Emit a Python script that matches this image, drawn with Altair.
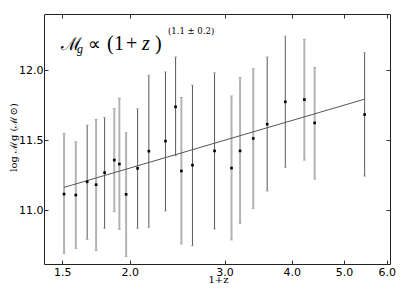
import altair as alt
import pandas as pd

# data
x_vals = [1.511, 1.589, 1.668, 1.733, 1.797, 1.873, 1.914, 1.970, 2.069, 2.171, 2.331, 2.434,
          2.495, 2.616, 2.875, 3.091, 3.206, 3.392, 3.600, 3.890, 4.220, 4.410, 5.460]
y_vals = [11.114, 11.107, 11.202, 11.181, 11.267, 11.357, 11.329, 11.112, 11.298, 11.421, 11.493, 11.738,
          11.279, 11.321, 11.423, 11.300, 11.423, 11.512, 11.614, 11.774, 11.790, 11.623, 11.683]
y_lo = [10.690, 10.726, 10.790, 10.710, 10.869, 10.988, 10.862, 10.667, 10.869, 10.876, 10.993, 11.388,
        10.757, 10.745, 10.864, 10.786, 10.905, 11.012, 11.136, 11.305, 11.357, 11.221, 11.243]
y_hi = [11.548, 11.488, 11.607, 11.648, 11.662, 11.726, 11.800, 11.552, 11.724, 11.964, 11.988, 12.095,
        11.805, 11.893, 11.981, 11.816, 11.948, 12.012, 12.095, 12.243, 12.221, 12.019, 12.126]
shade = ["light", "light", "dark", "light", "dark", "light", "light", "light", "dark", "dark", "dark", "dark",
         "light", "dark", "dark", "light", "light", "light", "dark", "dark", "light", "light", "dark"]

fit_x = [1.511, 5.460]
fit_y = [11.162, 11.793]

df = pd.DataFrame({"x": x_vals, "y": y_vals, "lo": y_lo, "hi": y_hi, "shade": shade})
df_fit = pd.DataFrame({"x": fit_x, "y": fit_y})

xs = alt.Scale(type="log", domain=[1.387, 6.085], nice=False)
ys = alt.Scale(domain=[10.614, 12.402], nice=False, zero=False)

axis_common = dict(domain=False, grid=False, tickSize=4, offset=-4, tickColor="#333",
                   labelFont="DejaVu Sans", labelFontSize=11, labelColor="black",
                   titleFont="DejaVu Serif", titleFontSize=10, titleFontWeight="normal", titleColor="black")

x_axis = alt.Axis(values=[1.5, 2.0, 3.0, 4.0, 5.0, 6.0], format=".1f", labelPadding=2,
                  title="1+z", titleY=22, titleBaseline="alphabetic", titleX=174, titleAlign="center",
                  labelFlush=False, **axis_common)
y_axis = alt.Axis(values=[11.0, 11.5, 12.0], format=".1f", labelPadding=1,
                  title="log ℳg (ℳ⊙)", titleX=-35, titleY=123, titleBaseline="middle",
                  titleAlign="center", titleAngle=270, **axis_common)

x_top = alt.Axis(orient="top", values=[1.5, 2.0, 3.0, 4.0, 5.0, 6.0], labels=False, title=None,
                 domain=False, grid=False, tickSize=4, offset=-4, tickColor="#333")
y_right = alt.Axis(orient="right", values=[11.0, 11.5, 12.0], labels=False, title=None,
                   domain=False, grid=False, tickSize=4, offset=-4, tickColor="#333")

shade_dom = ["light", "dark"]

bars = alt.Chart(df).mark_rule().encode(
    x=alt.X("x:Q", scale=xs, axis=x_axis),
    y=alt.Y("lo:Q", scale=ys, axis=y_axis),
    y2="hi:Q",
    color=alt.Color("shade:N", scale=alt.Scale(domain=shade_dom, range=["#b3b3b3", "#5a5a5a"]), legend=None),
    strokeWidth=alt.StrokeWidth("shade:N", scale=alt.Scale(domain=shade_dom, range=[2, 1]), legend=None),
)

cap_lo = alt.Chart(df).mark_tick(orient="horizontal", size=3, thickness=1, color="#9a9a9a").encode(
    x=alt.X("x:Q", scale=xs, axis=None), y=alt.Y("lo:Q", scale=ys, axis=None))
cap_hi = alt.Chart(df).mark_tick(orient="horizontal", size=3, thickness=1, color="#9a9a9a").encode(
    x=alt.X("x:Q", scale=xs, axis=None), y=alt.Y("hi:Q", scale=ys, axis=None))

fit = alt.Chart(df_fit).mark_line(color="#555555", strokeWidth=1).encode(
    x=alt.X("x:Q", scale=xs, axis=None), y=alt.Y("y:Q", scale=ys, axis=None))

pts = alt.Chart(df).mark_square(size=7, color="black", opacity=1).encode(
    x=alt.X("x:Q", scale=xs, axis=None), y=alt.Y("y:Q", scale=ys, axis=None))

ghost = alt.Chart(df).mark_point(opacity=0).encode(
    x=alt.X("x:Q", scale=xs, axis=x_top), y=alt.Y("y:Q", scale=ys, axis=y_right))

one = pd.DataFrame({"k": [0]})


def label(txt, px, py, size, style="normal", font="Liberation Serif"):
    return alt.Chart(one).mark_text(align="left", baseline="alphabetic", font=font, fontSize=size,
                                    fontStyle=style, color="#000000").encode(
        x=alt.value(px), y=alt.value(py), text=alt.value(txt))


ann = [
    label("ℳ", 17, 36, 18, font="DejaVu Serif"),
    label("g", 33, 39, 12, "italic"),
    label("∝", 44, 36, 18, font="DejaVu Sans"),
    label("(", 63, 36, 20),
    label("1", 70, 36, 20),
    label("+", 82, 36, 20),
    label("z", 98, 36, 20, "italic"),
    label(")", 111, 36, 20),
    label("(1.1 ± 0.2)", 124, 20, 8.5, font="DejaVu Serif"),
]

chart = alt.layer(bars, cap_lo, cap_hi, fit, pts, ghost, *ann).resolve_axis(
    x="independent", y="independent"
).properties(
    width=346, height=250,
    autosize=alt.AutoSizeParams(type="none"),
    padding={"left": 36, "top": 6, "right": 9, "bottom": 19},
).configure_view(stroke="#222222", strokeWidth=1)

chart.save("out.html", embed_options={"renderer": "svg", "actions": False})
